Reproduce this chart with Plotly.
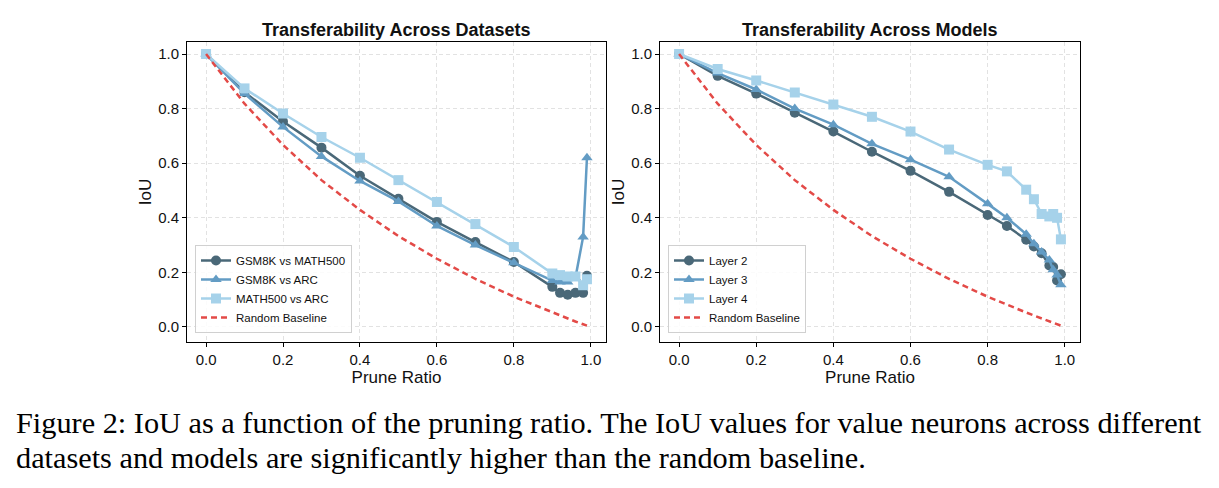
import plotly.graph_objects as go

# ---------------- data ----------------
x_left = [0.0, 0.1, 0.2, 0.3, 0.4, 0.5, 0.6, 0.7, 0.8, 0.9, 0.92, 0.94, 0.96, 0.98, 0.99]
gsm_math = [1.0, 0.86, 0.753, 0.657, 0.554, 0.47, 0.385, 0.311, 0.238, 0.147, 0.125, 0.118, 0.125, 0.125, 0.188]
gsm_arc = [1.0, 0.855, 0.733, 0.625, 0.535, 0.46, 0.37, 0.30, 0.235, 0.17, 0.165, 0.165, 0.18, 0.33, 0.62]
math_arc = [1.0, 0.874, 0.782, 0.696, 0.62, 0.538, 0.458, 0.377, 0.293, 0.196, 0.19, 0.185, 0.185, 0.153, 0.175]
rand_left = [1.0, 0.818, 0.667, 0.538, 0.429, 0.333, 0.25, 0.176, 0.111, 0.053, 0.042, 0.031, 0.020, 0.010, 0.005]

x_right = [0.0, 0.1, 0.2, 0.3, 0.4, 0.5, 0.6, 0.7, 0.8, 0.85, 0.9, 0.92, 0.94, 0.96, 0.97, 0.98, 0.99]
layer2 = [1.0, 0.92, 0.855, 0.785, 0.716, 0.642, 0.572, 0.495, 0.41, 0.37, 0.32, 0.295, 0.27, 0.225, 0.22, 0.17, 0.193]
layer3 = [1.0, 0.93, 0.87, 0.80, 0.741, 0.671, 0.613, 0.55, 0.451, 0.40, 0.34, 0.305, 0.275, 0.245, 0.21, 0.19, 0.155]
layer4 = [1.0, 0.945, 0.903, 0.859, 0.815, 0.77, 0.716, 0.65, 0.594, 0.57, 0.503, 0.468, 0.414, 0.405, 0.414, 0.40, 0.321]
rand_right = [1.0, 0.818, 0.667, 0.538, 0.429, 0.333, 0.25, 0.176, 0.111, 0.081, 0.053, 0.042, 0.031, 0.020, 0.015, 0.010, 0.005]

names_left = ["GSM8K vs MATH500", "GSM8K vs ARC", "MATH500 vs ARC", "Random Baseline"]
names_right = ["Layer 2", "Layer 3", "Layer 4", "Random Baseline"]
titles = ["Transferability Across Datasets", "Transferability Across Models"]
tick_vals_x = [0.0, 0.2, 0.4, 0.6, 0.8, 1.0]
tick_vals_y = [0.0, 0.2, 0.4, 0.6, 0.8, 1.0]
caption_1 = "Figure 2: IoU as a function of the pruning ratio. The IoU values for value neurons across different"
caption_2 = "datasets and models are significantly higher than the random baseline."

# ---------------- style ----------------
C_DARK = "#4a6878"
C_MID = "#639cc4"
C_LIGHT = "#a6d2ea"
C_RED = "#e34a47"
W, H = 1219, 488
FONT = "Liberation Sans, Arial, sans-serif"
SERIF = "Liberation Serif, Times New Roman, serif"

fig = go.Figure()

def add_series(xs, ys_list, names, xa, ya, legend):
    styles = [
        (C_DARK, "circle"),
        (C_MID, "triangle-up"),
        (C_LIGHT, "square"),
    ]
    for ys, name, (c, sym) in zip(ys_list[:3], names[:3], styles):
        fig.add_trace(go.Scatter(
            x=xs, y=ys, name=name, mode="lines+markers",
            line=dict(color=c, width=2.5),
            marker=dict(color=c, symbol=sym, size=10),
            xaxis=xa, yaxis=ya, legend=legend,
        ))
    fig.add_trace(go.Scatter(
        x=xs, y=ys_list[3], name=names[3], mode="lines",
        line=dict(color=C_RED, width=2.5, dash="6px,4px"),
        xaxis=xa, yaxis=ya, legend=legend,
    ))

add_series(x_left, [gsm_math, gsm_arc, math_arc, rand_left], names_left, "x", "y", "legend")
add_series(x_right, [layer2, layer3, layer4, rand_right], names_right, "x2", "y2", "legend2")

def px_x(p):
    return p / W

def px_y(p):
    return 1 - p / H

ydom = [px_y(342), px_y(42)]
axis_common = dict(
    showline=True, linecolor="black", linewidth=1, mirror=True,
    ticks="outside", ticklen=4, tickcolor="black", tickwidth=1,
    showgrid=True, gridcolor="#e2e2e2", griddash="4px,3px", gridwidth=1,
    zeroline=False, tickfont=dict(family=FONT, size=15, color="#111"),
)
xr = [-0.0495, 1.0395]
yr = [-0.055, 1.044]
axtitle_font = dict(family=FONT, size=17, color="#111")

fig.update_layout(
    width=W, height=H,
    margin=dict(l=0, r=0, t=0, b=0),
    paper_bgcolor="white", plot_bgcolor="white",
    showlegend=True,
    xaxis=dict(domain=[px_x(187), px_x(606)], range=xr, tickvals=tick_vals_x,
               tickformat=".1f", anchor="y",
               title=dict(text="Prune Ratio", font=axtitle_font, standoff=3),
               **axis_common),
    yaxis=dict(domain=ydom, range=yr, tickvals=tick_vals_y, tickformat=".1f", anchor="x",
               title=dict(text="IoU", font=axtitle_font, standoff=2),
               **axis_common),
    xaxis2=dict(domain=[px_x(660), px_x(1080)], range=xr, tickvals=tick_vals_x,
                tickformat=".1f", anchor="y2",
                title=dict(text="Prune Ratio", font=axtitle_font, standoff=3),
                **axis_common),
    yaxis2=dict(domain=ydom, range=yr, tickvals=tick_vals_y, tickformat=".1f", anchor="x2",
                title=dict(text="IoU", font=axtitle_font, standoff=2),
                **axis_common),
    legend=dict(x=px_x(195), y=px_y(333), xanchor="left", yanchor="bottom",
                bgcolor="rgba(255,255,255,0.85)", bordercolor="#d0d0d0", borderwidth=1,
                font=dict(family=FONT, size=11.5, color="#111"), tracegroupgap=0,
                itemwidth=30),
    legend2=dict(x=px_x(668), y=px_y(333), xanchor="left", yanchor="bottom",
                 bgcolor="rgba(255,255,255,0.85)", bordercolor="#d0d0d0", borderwidth=1,
                 font=dict(family=FONT, size=11.5, color="#111"), tracegroupgap=0,
                 itemwidth=30),
)

annotations = []
for title, (a, b) in zip(titles, [(187, 606), (660, 1080)]):
    annotations.append(dict(
        text="<b>%s</b>" % title, x=px_x((a + b) / 2), y=px_y(30),
        xref="paper", yref="paper", xanchor="center", yanchor="middle",
        showarrow=False, font=dict(family=FONT, size=18, color="#111"),
    ))
annotations.append(dict(text=caption_1, x=px_x(14), y=px_y(423), xref="paper", yref="paper",
                        xanchor="left", yanchor="middle", showarrow=False,
                        font=dict(family=SERIF, size=30.3, color="black")))
annotations.append(dict(text=caption_2, x=px_x(14), y=px_y(458), xref="paper", yref="paper",
                        xanchor="left", yanchor="middle", showarrow=False,
                        font=dict(family=SERIF, size=30.3, color="black")))
fig.update_layout(annotations=annotations)

fig.write_html("out.html")
